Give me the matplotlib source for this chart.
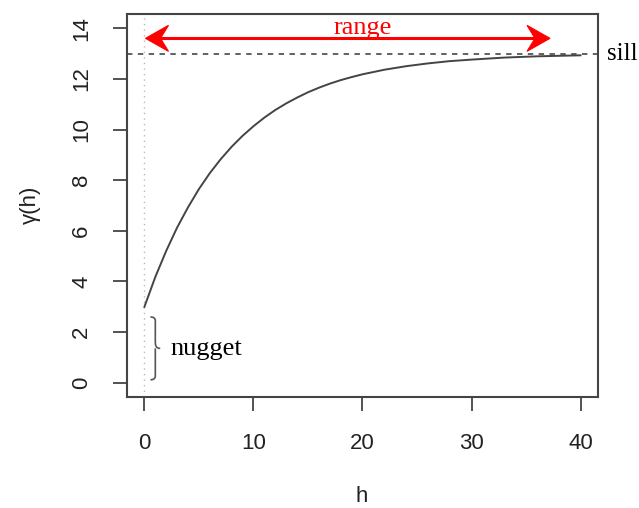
import matplotlib
matplotlib.use("Agg")
import matplotlib.pyplot as plt
from matplotlib.path import Path
from matplotlib.patches import PathPatch, Polygon
from matplotlib.transforms import ScaledTranslation

# exponential variogram read along h
H = [0, 1, 2, 3, 4, 5, 6, 7, 8, 9, 10, 11, 12, 13, 14, 15, 16, 17, 18, 19, 20,
     22, 24, 26, 28, 30, 33, 36, 40]
GAMMA = [3.00, 4.18, 5.21, 6.13, 6.93, 7.65, 8.28, 8.83, 9.32, 9.75, 10.13,
         10.47, 10.77, 11.03, 11.26, 11.47, 11.65, 11.81, 11.95, 12.07, 12.18,
         12.36, 12.50, 12.61, 12.70, 12.76, 12.84, 12.89, 12.93]

NUGGET = 3
SILL = 13
RANGE_FROM, RANGE_TO = 0.1, 37.2
RANGE_Y = 13.6

X_TICKS = [0, 10, 20, 30, 40]
Y_TICKS = [0, 2, 4, 6, 8, 10, 12, 14]

SANS = "Liberation Sans"
SERIF = "Liberation Serif"
FG = "#444444"


def arrow_head(ax, x, y, direction):
    # notched head, sized in inches, pointing left (-1) or right (+1)
    d = direction
    shape = [(0, 0), (-d * 0.23, 0.13), (-d * 0.15, 0.0), (-d * 0.23, -0.13)]
    trans = ax.figure.dpi_scale_trans + ScaledTranslation(x, y, ax.transData)
    ax.add_patch(Polygon(shape, closed=True, facecolor="red",
                         edgecolor="red", lw=0.8, transform=trans))


def main():
    fig = plt.figure(figsize=(6.39, 5.08), dpi=100)
    ax = fig.add_axes([0.1987, 0.2185, 0.7371, 0.7539])

    ax.axvline(0, color="#bbbbbb", lw=1.0, ls=(0, (1, 3)))
    ax.axhline(SILL, color="#555555", lw=1.3, ls=(0, (3, 3)))
    ax.plot(H, GAMMA, color="#444444", lw=1.4)

    # range arrow
    ax.plot([RANGE_FROM + 1.0, RANGE_TO - 1.0], [RANGE_Y, RANGE_Y],
            color="red", lw=2.2)
    arrow_head(ax, RANGE_FROM, RANGE_Y, -1)
    arrow_head(ax, RANGE_TO, RANGE_Y, 1)
    ax.text(20, 14.0, "range", color="red", family=SERIF, fontsize=19,
            ha="center", va="center")
    ax.text(42.4, SILL, "sill", color="black", family=SERIF, fontsize=18,
            ha="left", va="center", clip_on=False)

    # curly brace spanning the nugget
    y0, y1 = 0.12, NUGGET - 0.4
    ym = (y0 + y1) / 2
    verts = [(0.55, y1), (1.0, y1), (1.0, y1 - 0.15), (1.0, ym + 0.3),
             (1.0, ym + 0.15), (1.0, ym), (1.45, ym),
             (1.0, ym), (1.0, ym - 0.15), (1.0, ym - 0.3),
             (1.0, y0 + 0.15), (1.0, y0), (0.55, y0)]
    codes = [Path.MOVETO, Path.CURVE3, Path.CURVE3, Path.LINETO,
             Path.CURVE4, Path.CURVE4, Path.CURVE4,
             Path.MOVETO, Path.CURVE4, Path.CURVE4,
             Path.LINETO, Path.CURVE3, Path.CURVE3]
    ax.add_patch(PathPatch(Path(verts, codes), facecolor="none",
                           edgecolor="#555555", lw=1.2))
    ax.text(2.4, 1.35, "nugget", color="black", family=SERIF, fontsize=19,
            ha="left", va="center")

    ax.set_xlim(-1.6, 41.6)
    ax.set_ylim(-0.56, 14.56)
    ax.set_xticks(X_TICKS)
    ax.set_yticks(Y_TICKS)
    for lab in ax.get_xticklabels() + ax.get_yticklabels():
        lab.set_family(SANS)
    ax.tick_params(axis="both", length=10, width=1.3, color=FG,
                   labelsize=16, labelcolor="#222222")
    ax.tick_params(axis="x", pad=16)
    ax.tick_params(axis="y", pad=15, labelrotation=90)
    for lab in ax.get_yticklabels():
        lab.set_va("center")
    for s in ax.spines.values():
        s.set_color(FG)
        s.set_linewidth(1.5)

    fig.text(362 / 639, 1 - 497 / 508, "h", family=SANS, fontsize=16,
             ha="center", va="center", color="#222222")
    fig.text(30 / 639, 1 - 205 / 508, "\u03b3(h)", family=SANS, fontsize=16,
             ha="center", va="center", rotation=90, color="#222222")

    fig.savefig("out.png", dpi=100)


if __name__ == '__main__':
    main()
